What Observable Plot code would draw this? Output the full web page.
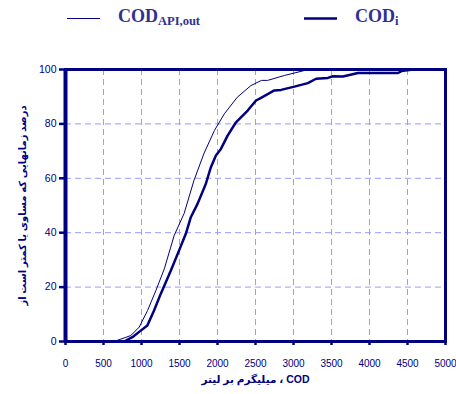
<!DOCTYPE html>
<html>
<head>
<meta charset="utf-8">
<script src="https://cdn.jsdelivr.net/npm/d3@7"></script>
<script src="https://cdn.jsdelivr.net/npm/@observablehq/plot@0.6"></script>
<style>
  body { margin: 0; background: #fff; }
  #wrap { position: relative; width: 456px; height: 394px; }
  #legend { position: absolute; left: 0; top: 0; width: 456px; height: 40px; font-family: "Liberation Serif", "Times New Roman", serif; font-weight: bold; color: #2e3192; }
  .item { position: absolute; top: 5px; display: flex; align-items: center; }
  .lab { font-size: 18px; }
  .lab sub { font-size: 12.5px; vertical-align: -3px; }
</style>
</head>
<body>
<div id="wrap">
  <div id="legend">
    <div class="item" style="left:67px;">
      <svg width="33" height="24"><line x1="0" x2="33" y1="13.5" y2="13.5" stroke="#000080" stroke-width="1"/></svg>
      <span class="lab" style="margin-left:18px;">COD<sub>API,out</sub></span>
    </div>
    <div class="item" style="left:304px;">
      <svg width="33" height="24"><line x1="0" x2="33" y1="13.5" y2="13.5" stroke="#000080" stroke-width="2.5"/></svg>
      <span class="lab" style="margin-left:18px;">COD<sub>i</sub></span>
    </div>
  </div>
  <div id="chart"></div>
</div>
<script>
const xTicks = [0, 500, 1000, 1500, 2000, 2500, 3000, 3500, 4000, 4500, 5000];
const yTicks = [0, 20, 40, 60, 80, 100];

const apiOutX = [650, 680, 860, 970, 1080, 1190, 1300, 1430, 1560, 1690, 1820, 1960, 2090, 2260, 2440, 2580, 2660, 2880, 3140, 3300];
const apiOutY = [0, 0.4, 2.2, 5.3, 11.4, 18.8, 26.7, 39, 47, 59.2, 69, 77.6, 83.7, 89.8, 94.1, 96, 96, 97.8, 99.6, 100];

const codIX = [770, 880, 990, 1077, 1165, 1253, 1385, 1495, 1583, 1649, 1737, 1847, 1913, 1979, 2045, 2133, 2243, 2397, 2507, 2573, 2748, 2836, 3012, 3188, 3298, 3452, 3518, 3650, 3848, 4376, 4420, 4574];
const codIY = [0, 1.6, 4, 5.9, 11.4, 17.5, 26, 33.5, 39.6, 45.7, 50.6, 58, 64.1, 68.4, 70.8, 75.7, 80.6, 84.9, 88.6, 89.6, 92.3, 92.5, 93.7, 95, 96.6, 96.9, 97.5, 97.4, 98.7, 98.7, 99.4, 100];

const xLabel = "میلیگرم بر لیتر ، COD";
const yLabel = "درصد زمانهایی که مساوی یا کمتر است از";

const apiOut = apiOutX.map((x, i) => ({x, y: apiOutY[i]}));
const codI = codIX.map((x, i) => ({x, y: codIY[i]}));

const navy = "#000080";
const gridColor = "#9a9aff";

const chart = Plot.plot({
  width: 456,
  height: 394,
  marginLeft: 65,
  marginRight: 11,
  marginTop: 69,
  marginBottom: 53,
  style: { fontFamily: "'Liberation Sans', Arial, sans-serif", fontSize: "10px", color: navy, background: "white", overflow: "visible" },
  x: { domain: [0, 5000] },
  y: { domain: [0, 100] },
  marks: [
    Plot.gridX(xTicks, { stroke: gridColor, strokeOpacity: 1, strokeDasharray: "6,4" }),
    Plot.gridY(yTicks, { stroke: gridColor, strokeOpacity: 1, strokeDasharray: "6,4" }),
    Plot.line(apiOut, { x: "x", y: "y", stroke: navy, strokeWidth: 1 }),
    Plot.line(codI, { x: "x", y: "y", stroke: navy, strokeWidth: 2.5 }),
    Plot.frame({ stroke: navy, strokeWidth: 3 }),
    Plot.ruleX([0], { stroke: navy, strokeWidth: 4 }),
    Plot.axisX(xTicks, { tickSize: 4, tickPadding: 14, stroke: navy, strokeWidth: 2.5, fill: navy, fontSize: 10, label: null, tickFormat: d => String(d) }),
    Plot.axisY(yTicks, { tickSize: 6, tickPadding: 3, stroke: navy, strokeWidth: 2.5, fill: navy, fontSize: 10.5, label: null }),
    Plot.text([xLabel], { frameAnchor: "bottom", dy: 41, textAnchor: "middle", text: d => d, fill: navy, fontWeight: "bold", fontSize: 10.5, fontFamily: "'Liberation Sans', 'DejaVu Sans', sans-serif" }),
    Plot.text([yLabel], { frameAnchor: "left", dx: -43, rotate: -90, textAnchor: "middle", text: d => d, fill: navy, fontWeight: "bold", fontSize: 10, fontFamily: "'Liberation Sans', 'DejaVu Sans', sans-serif" })
  ]
});
document.getElementById("chart").appendChild(chart);
</script>
</body>
</html>
